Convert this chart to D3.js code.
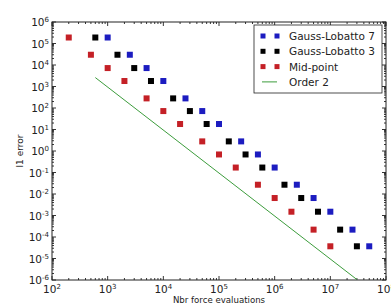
<!DOCTYPE html>
<html>
<head>
<meta charset="utf-8">
<script src="https://cdn.jsdelivr.net/npm/d3@7"></script>
<style>
  body { margin: 0; background: #fff; }
  svg { display: block; font-family: "DejaVu Sans", sans-serif; }
</style>
</head>
<body>
<svg id="chart" width="391" height="308"></svg>
<script>
// force evaluations per run (x) and l1 error (y)
const evalsMid = [200, 500, 1000, 2000, 5000, 1e4, 2e4, 5e4, 1e5, 2e5, 5e5, 1e6, 2e6, 5e6, 1e7];
const evalsGL3 = [600, 1500, 3000, 6000, 1.5e4, 3e4, 6e4, 1.5e5, 3e5, 6e5, 1.5e6, 3e6, 6e6, 1.5e7, 3e7];
const evalsGL7 = [1000, 2500, 5000, 1e4, 2.5e4, 5e4, 1e5, 2.5e5, 5e5, 1e6, 2.5e6, 5e6, 1e7, 2.5e7, 5e7];
const errMid = [1.9e5, 3.0e4, 7.2e3, 1.8e3, 280, 72, 18, 2.8, 0.69, 0.17, 0.027, 0.0065, 0.0015, 2.2e-4, 3.7e-5];
const errGL3 = [1.9e5, 3.0e4, 7.2e3, 1.8e3, 280, 72, 18, 2.8, 0.69, 0.17, 0.027, 0.0065, 0.0015, 2.2e-4, 3.7e-5];
const errGL7 = [1.9e5, 3.0e4, 7.2e3, 1.8e3, 280, 72, 18, 2.8, 0.69, 0.17, 0.027, 0.0065, 0.0015, 2.2e-4, 3.7e-5];
const orderX = [600, 3e7];
const orderY = [2600, 1.05e-6];
const xTicks = [1e2, 1e3, 1e4, 1e5, 1e6, 1e7, 1e8];
const yTicks = [1e-6, 1e-5, 1e-4, 1e-3, 1e-2, 1e-1, 1e0, 1e1, 1e2, 1e3, 1e4, 1e5, 1e6];

const series = [
  {name: "Gauss-Lobatto 7", x: evalsGL7, y: errGL7, color: "#1c1cc0"},
  {name: "Gauss-Lobatto 3", x: evalsGL3, y: errGL3, color: "#000000"},
  {name: "Mid-point", x: evalsMid, y: errMid, color: "#c42026"}
];

const W = 391, H = 308;
const margin = {left: 52, right: 5, top: 22, bottom: 28};
const svg = d3.select("#chart");

const x = d3.scaleLog().domain([1e2, 1e8]).range([margin.left, W - margin.right]);
const y = d3.scaleLog().domain([1e-6, 1e6]).range([H - margin.bottom, margin.top]);

// minor ticks 2..9 of each decade
const minor = (lo, hi) => {
  const out = [];
  for (let e = lo; e < hi; e++) for (let k = 2; k <= 9; k++) out.push(k * Math.pow(10, e));
  return out;
};
const xMinor = minor(2, 8), yMinor = minor(-6, 6);

svg.append("defs").append("clipPath").attr("id", "plot")
  .append("rect")
  .attr("x", margin.left).attr("y", margin.top)
  .attr("width", W - margin.left - margin.right)
  .attr("height", H - margin.top - margin.bottom);

const sup = (sel, e) => {
  sel.text(null);
  sel.append("tspan").text("10");
  sel.append("tspan").attr("dy", "-0.55em").attr("font-size", "7px").text(Math.round(Math.log10(e)));
};

// ticks on all four sides, pointing inward
const x0 = margin.left, x1 = W - margin.right, y0 = H - margin.bottom, y1 = margin.top;
const tickG = svg.append("g").attr("stroke", "#000").attr("stroke-width", 0.8);
[[xTicks, 4], [xMinor, 2]].forEach(([vals, len]) => {
  vals.forEach(v => {
    tickG.append("line").attr("x1", x(v)).attr("x2", x(v)).attr("y1", y0).attr("y2", y0 - len);
    tickG.append("line").attr("x1", x(v)).attr("x2", x(v)).attr("y1", y1).attr("y2", y1 + len);
  });
});
[[yTicks, 4], [yMinor, 2]].forEach(([vals, len]) => {
  vals.forEach(v => {
    tickG.append("line").attr("y1", y(v)).attr("y2", y(v)).attr("x1", x0).attr("x2", x0 + len);
    tickG.append("line").attr("y1", y(v)).attr("y2", y(v)).attr("x1", x1).attr("x2", x1 - len);
  });
});

svg.append("rect")
  .attr("x", x0).attr("y", y1)
  .attr("width", x1 - x0).attr("height", y0 - y1)
  .attr("fill", "none").attr("stroke", "#222").attr("stroke-width", 1);

// tick labels
svg.append("g").selectAll("text").data(xTicks).join("text")
  .attr("x", d => x(d)).attr("y", y0 + 13)
  .attr("text-anchor", "middle").attr("font-size", "10.5px").attr("fill", "#222")
  .each(function(d) { sup(d3.select(this), d); });

svg.append("g").selectAll("text").data(yTicks).join("text")
  .attr("x", x0 - 3).attr("y", d => y(d) + 4)
  .attr("text-anchor", "end").attr("font-size", "10.5px").attr("fill", "#222")
  .each(function(d) { sup(d3.select(this), d); });

// axis titles
svg.append("text")
  .attr("x", (x0 + x1) / 2).attr("y", H - 5)
  .attr("text-anchor", "middle").attr("font-size", "8.6px").attr("fill", "#222")
  .text("Nbr force evaluations");

svg.append("text")
  .attr("transform", `translate(23,${(y0 + y1) / 2}) rotate(-90)`)
  .attr("text-anchor", "middle").attr("font-size", "9px").attr("fill", "#222")
  .text("l1 error");

const plot = svg.append("g").attr("clip-path", "url(#plot)");

plot.append("path")
  .datum(orderX.map((d, i) => [d, orderY[i]]))
  .attr("fill", "none").attr("stroke", "#3c9c3c").attr("stroke-width", 1)
  .attr("d", d3.line().x(d => x(d[0])).y(d => y(d[1])));

const sq = 6;
series.forEach(s => {
  plot.append("g").selectAll("rect")
    .data(s.x.map((d, i) => [d, s.y[i]]))
    .join("rect")
    .attr("x", d => x(d[0]) - sq / 2).attr("y", d => y(d[1]) - sq / 2)
    .attr("width", sq).attr("height", sq)
    .attr("fill", s.color);
});

// legend
const leg = svg.append("g").attr("transform", "translate(254,25)");
leg.append("rect").attr("width", 128).attr("height", 68)
  .attr("fill", "#fff").attr("stroke", "#222").attr("stroke-width", 0.8);
const rows = series.concat([{name: "Order 2", line: true, color: "#3c9c3c"}]);
rows.forEach((r, i) => {
  const cy = 11 + i * 15.3;
  if (r.line) {
    leg.append("line").attr("x1", 8).attr("x2", 23).attr("y1", cy).attr("y2", cy)
      .attr("stroke", r.color).attr("stroke-width", 1);
  } else {
    [9, 23].forEach(cx => {
      leg.append("rect").attr("x", cx - 2.5).attr("y", cy - 2.5)
        .attr("width", 5).attr("height", 5).attr("fill", r.color);
    });
  }
  leg.append("text").attr("x", 35).attr("y", cy + 4)
    .attr("font-size", "10.5px").attr("fill", "#222").text(r.name);
});
</script>
</body>
</html>
